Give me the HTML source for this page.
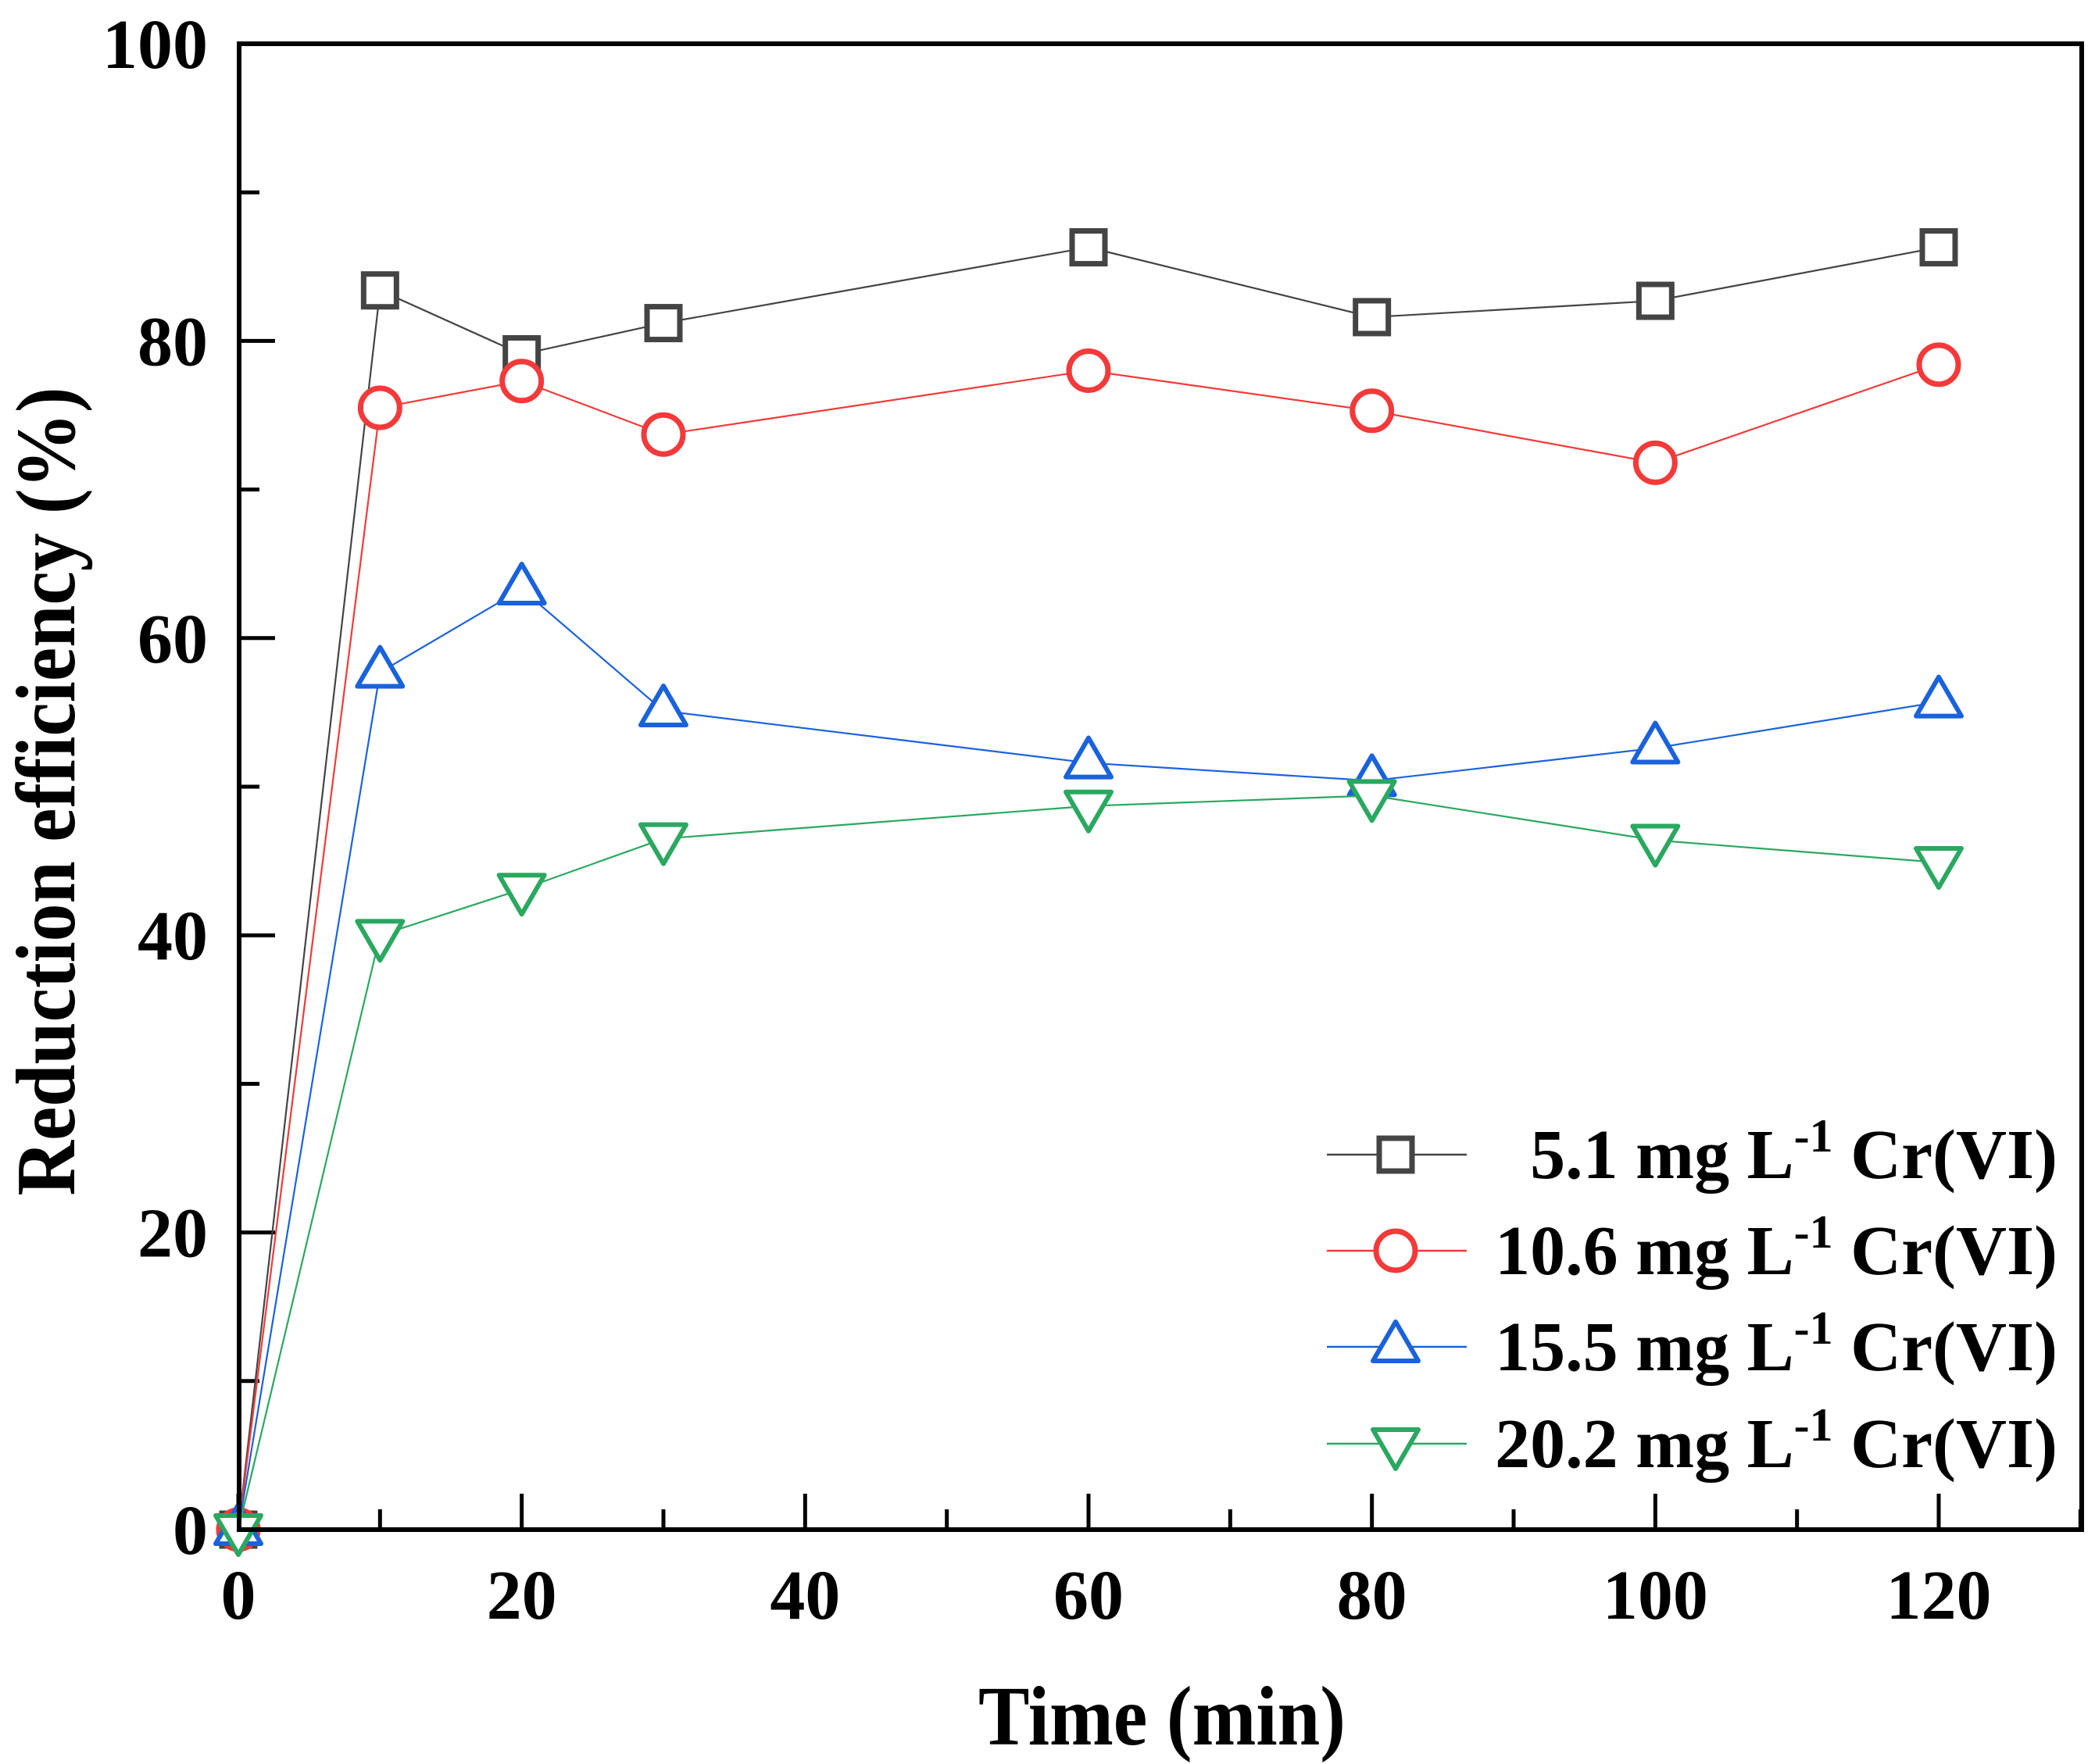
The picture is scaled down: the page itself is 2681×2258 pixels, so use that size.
<!DOCTYPE html>
<html><head><meta charset="utf-8"><style>
html,body{margin:0;padding:0;background:#fff;}
svg{display:block;font-family:"Liberation Serif",serif;font-weight:bold;}
</style></head><body>
<svg id="chart" width="2681" height="2258" viewBox="0 0 2681 2258" xmlns="http://www.w3.org/2000/svg">
<g id="plot"></g>
</svg>
<script>
const times = [0, 10, 20, 30, 60, 80, 100, 120];
const s51 = [0, 83.4, 79.1, 81.2, 86.3, 81.6, 82.7, 86.3];
const s106 = [0, 75.5, 77.3, 73.7, 78.0, 75.3, 71.8, 78.4];
const s155 = [0, 57.7, 63.3, 55.1, 51.6, 50.4, 52.6, 55.7];
const s202 = [0, 40.0, 43.1, 46.5, 48.7, 49.4, 46.4, 44.9];
const xTicks = [0, 20, 40, 60, 80, 100, 120];
const yTicks = [0, 20, 40, 60, 80, 100];
const seriesNames = ["5.1", "10.6", "15.5", "20.2"];

const NS = "http://www.w3.org/2000/svg";
const L = 306, R = 2664, T = 56, B = 1958;
const X = v => 305 + v * (2481 - 305) / 120;
const Y = v => B - v * (B - T) / 100;
const g = document.getElementById('plot');
function mk(tag, attrs, parent) {
  const e = document.createElementNS(NS, tag);
  for (const k in attrs) e.setAttribute(k, attrs[k]);
  (parent || g).appendChild(e);
  return e;
}
// ticks
for (let v = 0; v <= 130; v += 10) {
  const t = mk('line', {x1: X(v), x2: X(v), y1: B, y2: B - (v % 20 === 0 ? 46 : 26), stroke: '#000', 'stroke-width': 5});
  
  
}
for (let v = 0; v <= 100; v += 10) {
  const t = mk('line', {x1: L, x2: L + (v % 20 === 0 ? 46 : 26), y1: Y(v), y2: Y(v), stroke: '#000', 'stroke-width': 5});
  
  
}
xTicks.forEach(v => {
  const t = mk('text', {x: X(v), y: 2072, 'text-anchor': 'middle', 'font-size': 90});
  t.textContent = v;
  
  
});
yTicks.forEach(v => {
  const t = mk('text', {x: 266, y: Y(v) + 31, 'text-anchor': 'end', 'font-size': 90});
  t.textContent = v;
  
  
});
// series
const cols = ['#444444', '#f23a3a', '#1a62dc', '#2aa860'];
const data = [s51, s106, s155, s202];
const shapes = ['sq', 'ci', 'up', 'dn'];
function marker(shape, cx, cy, col, parent) {
  let m;
  if (shape === 'sq') m = mk('rect', {x: cx - 21, y: cy - 21, width: 42, height: 42, fill: '#fff', stroke: col, 'stroke-width': 7}, parent);
  else if (shape === 'ci') m = mk('circle', {cx: cx, cy: cy, r: 25, fill: '#fff', stroke: col, 'stroke-width': 7}, parent);
  else if (shape === 'up') m = mk('polygon', {points: `${cx},${cy-32} ${cx-29},${cy+18} ${cx+29},${cy+18}`, fill: '#fff', stroke: col, 'stroke-width': 6, 'stroke-linejoin': 'round'}, parent);
  else m = mk('polygon', {points: `${cx},${cy+32} ${cx-29},${cy-18} ${cx+29},${cy-18}`, fill: '#fff', stroke: col, 'stroke-width': 6, 'stroke-linejoin': 'round'}, parent);
  return m;
}
data.forEach((arr, i) => {
  const sg = mk('g', {});
  
  
  const pl = mk('polyline', {points: arr.map((v, j) => X(times[j]) + ',' + Y(v)).join(' '), fill: 'none', stroke: cols[i], 'stroke-width': 2.2}, sg);
  
  
  arr.forEach((v, j) => {
    const m = marker(shapes[i], X(times[j]), Y(v), cols[i], sg);
    
    
  });
});
// frame
const fr = mk('rect', {x: L, y: T, width: R - L, height: B - T, fill: 'none', stroke: '#000', 'stroke-width': 6});


// legend
const lg = mk('g', {});


const rows = [1478, 1601, 1724, 1848];
seriesNames.forEach((n, i) => {
  const eg = mk('g', {}, lg);
  
  
  mk('line', {x1: 1698, x2: 1877, y1: rows[i], y2: rows[i], stroke: cols[i], 'stroke-width': 2.5}, eg);
  marker(shapes[i], 1786, rows[i], cols[i], eg);
  const t = mk('text', {x: 2633, y: rows[i] + 30, 'text-anchor': 'end', 'font-size': 90}, eg);
  t.innerHTML = n + ' mg L<tspan dy="-34" font-size="60">-1</tspan><tspan dy="34"> Cr(VI)</tspan>';
});
// axis titles
const xt = mk('text', {x: 1487, y: 2233, 'text-anchor': 'middle', 'font-size': 108, textLength: 470, lengthAdjust: 'spacingAndGlyphs'});
xt.textContent = 'Time (min)';


const yt = mk('text', {x: 0, y: 0, 'text-anchor': 'middle', 'font-size': 108, textLength: 1035, lengthAdjust: 'spacingAndGlyphs', transform: 'translate(95,1013) rotate(-90)'});
yt.textContent = 'Reduction efficiency (%)';


</script>
</body></html>
